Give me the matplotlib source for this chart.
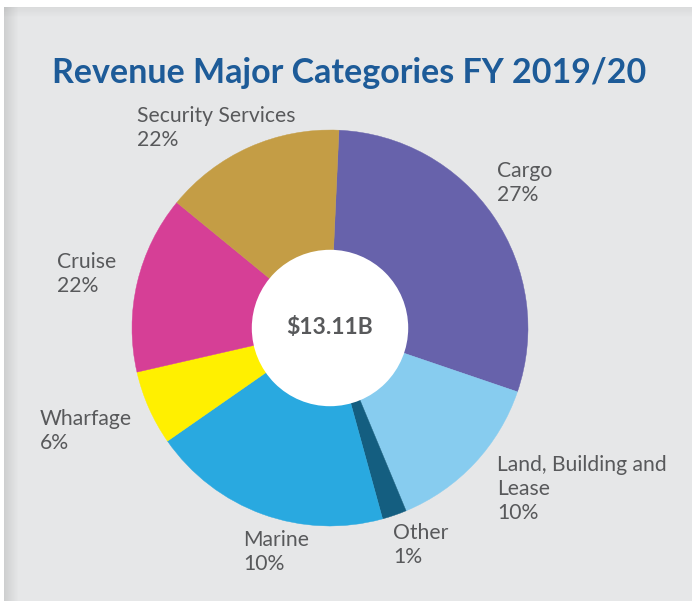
import matplotlib
matplotlib.use("Agg")
import matplotlib.pyplot as plt
from matplotlib.patches import Rectangle, Circle

# ---- data ----
categories = ["Cargo", "Land, Building and Lease", "Other", "Marine", "Wharfage", "Cruise", "Security Services"]
slice_sizes = [29.5, 13.5, 2.0, 19.6, 6.1, 14.5, 14.8]   # visual share of the ring
label_pcts = ["27%", "10%", "1%", "10%", "6%", "22%", "22%"]
colors = ["#6762ab", "#87ccef", "#145e80", "#29a9e0", "#fff000", "#d63f96", "#c49d45"]
total_label = "$13.11B"
title = "Revenue Major Categories FY 2019/20"

W, H = 692, 601
fig = plt.figure(figsize=(W / 100, H / 100), dpi=100)
fig.patch.set_facecolor("white")

def fx(x):
    return x / W

def fy(y):
    return 1 - y / H

# panel background with soft shadow on the left / top
bg = fig.add_axes([0, 0, 1, 1])
bg.set_xlim(0, W)
bg.set_ylim(H, 0)
bg.axis("off")
bg.add_patch(Rectangle((4, 7), W, H, color="#e6e7e8", lw=0))
for i in range(14):
    a = 0.10 * (1 - i / 14)
    bg.add_patch(Rectangle((4 + i, 7), 1, H, color="black", alpha=a, lw=0))
for i in range(10):
    a = 0.05 * (1 - i / 10)
    bg.add_patch(Rectangle((4, 7 + i), W, 1, color="black", alpha=a, lw=0))

# pie
cx, cy, R = 330, 328, 198
ax = fig.add_axes([fx(cx - R), fy(cy + R), 2 * R / W, 2 * R / H])
wedges, _ = ax.pie(slice_sizes, colors=colors, startangle=87.4, counterclock=False,
                   radius=1.0, wedgeprops=dict(linewidth=0.3, edgecolor="none"))
for w, c in zip(wedges, colors):
    w.set_edgecolor(c)
ax.add_patch(Circle((0, 0), 0.395, color="white", lw=0, zorder=5))
ax.text(0, 0, total_label, ha="center", va="center", fontsize=16.5, fontweight="bold",
        color="#58595b", family="Lato", zorder=6)
ax.set_xlim(-1, 1)
ax.set_ylim(-1, 1)
ax.set_aspect("equal")
ax.axis("off")

# title
fig.text(fx(52), fy(73), title, ha="left", va="center", fontsize=24.5, fontweight="bold",
         color="#1d5b98", family="Lato")

# labels
label_pos = {
    "Security Services": (137, 116),
    "Cargo": (497, 171),
    "Cruise": (57, 262),
    "Wharfage": (40, 419),
    "Land, Building and Lease": (497, 465),
    "Marine": (243, 540),
    "Other": (393, 533),
}
for cat, pct in zip(categories, label_pcts):
    x, y = label_pos[cat]
    name = "Land, Building and\nLease" if cat == "Land, Building and Lease" else cat
    lines = name.split("\n") + [pct]
    for k, line in enumerate(lines):
        fig.text(fx(x), fy(y + 24 * k), line, ha="left", va="center", fontsize=15.2,
                 color="#58595b", family="Lato")

fig.savefig("out.png", dpi=100)
